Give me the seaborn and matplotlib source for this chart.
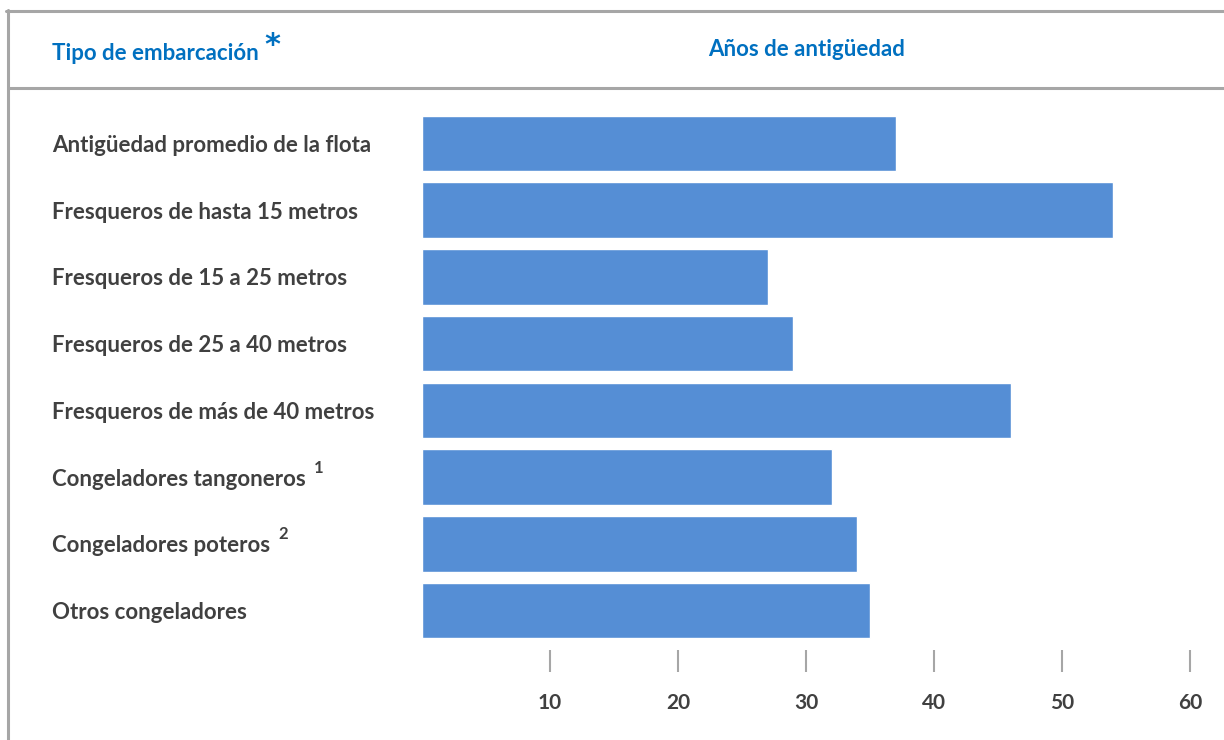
import numpy as np
import pandas as pd
import matplotlib
matplotlib.use("Agg")
import matplotlib.pyplot as plt
import seaborn as sns

# Datos
categorias = [
    "Antigüedad promedio de la flota",
    "Fresqueros de hasta 15 metros",
    "Fresqueros de 15 a 25 metros",
    "Fresqueros de 25 a 40 metros",
    "Fresqueros de más de 40 metros",
    "Congeladores tangoneros",
    "Congeladores poteros",
    "Otros congeladores",
]
notas = ["", "", "", "", "", "1", "2", ""]
antiguedad = [37, 54, 27, 29, 46, 32, 34, 35]
ticks_x = [10, 20, 30, 40, 50, 60]

sns.set_style("white")
plt.rcParams['font.family'] = ['Lato', 'DejaVu Sans']

GRIS = "#404040"
AZUL = "#0070c0"
BORDE = "#a6a6a6"

df = pd.DataFrame({"tipo": categorias, "anios": antiguedad})

W, H = 1224, 740
fig = plt.figure(figsize=(W / 100, H / 100), dpi=100)
ax = fig.add_axes([422 / W, 1 - 650 / H, (1222 - 422) / W, (650 - 110) / H])

sns.barplot(data=df, y="tipo", x="anios", orient="h", color="#558ed5",
            saturation=1, width=0.83, ax=ax)

ax.set_xlim(0, 800 / 12.8)
ax.set_ylim(7.59, -0.5)
ax.set_xticks(ticks_x)
ax.set_xticklabels([str(t) for t in ticks_x], fontsize=15, fontweight="bold", color=GRIS)
ax.tick_params(axis="x", length=16, width=1.5, color=BORDE, direction="out", pad=15,
               bottom=True)
ax.set_yticks(range(len(categorias)))
ax.set_yticklabels(categorias, fontsize=16, fontweight="bold", color=GRIS, ha="left")
ax.tick_params(axis="y", length=0, pad=370 * 0.72)
ax.set_xlabel("")
ax.set_ylabel("")
for s in ax.spines.values():
    s.set_visible(False)

# Superíndices de las notas
fig.canvas.draw()
for lbl, nota in zip(ax.get_yticklabels(), notas):
    if nota:
        bb = lbl.get_window_extent()
        fig.text((bb.x1 + 8) / W, (bb.y1 + 1) / H, nota, fontsize=12,
                 fontweight="bold", color=GRIS, ha="left", va="center")

# Encabezado
t = fig.text(52 / W, 1 - 53 / H, "Tipo de embarcación", fontsize=16, fontweight="bold",
             color=AZUL, ha="left", va="center")
fig.canvas.draw()
bb = t.get_window_extent()
fig.text((bb.x1 + 6) / W, 1 - 46 / H, "*", fontsize=22, fontweight="bold",
         color=AZUL, ha="left", va="center", family="DejaVu Sans")
fig.text(807 / W, 1 - 49 / H, "Años de antigüedad", fontsize=16, fontweight="bold",
         color=AZUL, ha="center", va="center")

# Marco
fig.add_artist(plt.Line2D([6 / W, 1], [1 - 11 / H, 1 - 11 / H], color=BORDE, lw=2.2))
fig.add_artist(plt.Line2D([7.5 / W, 7.5 / W], [0, 1 - 10 / H], color=BORDE, lw=2.2))
fig.add_artist(plt.Line2D([8 / W, 1], [1 - 88 / H, 1 - 88 / H], color=BORDE, lw=2.2))

fig.savefig("out.png", dpi=100)
